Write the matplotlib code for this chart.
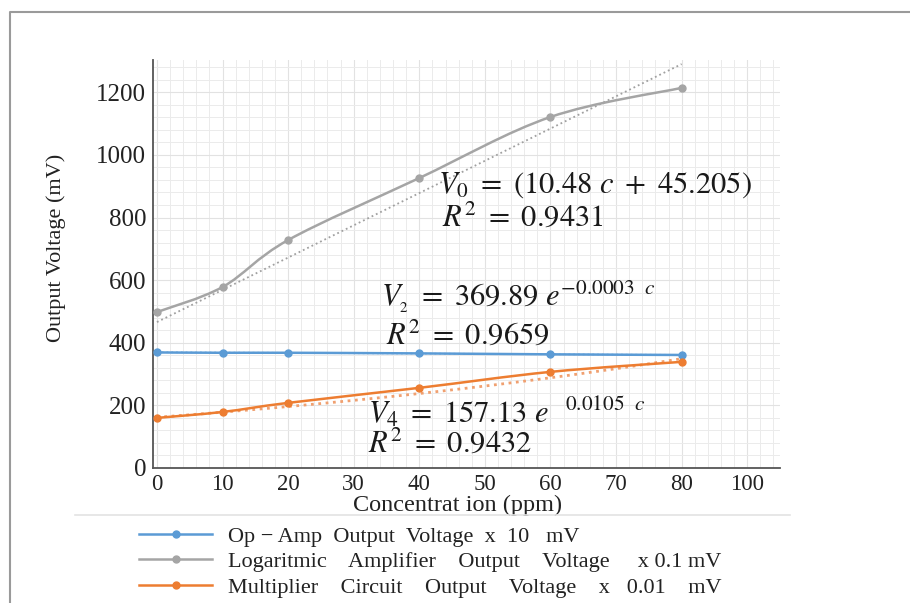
import numpy as np
import matplotlib
matplotlib.use("Agg")
import matplotlib.pyplot as plt
from matplotlib.path import Path
from matplotlib.patches import PathPatch
from matplotlib.lines import Line2D

plt.rcParams['font.family'] = ['Liberation Serif', 'DejaVu Serif']
plt.rcParams['mathtext.fontset'] = 'stix'

# ---------------- data ----------------
conc = [0, 10, 20, 40, 60, 80]
opamp = [369, 368, 368, 366, 363, 361]
logamp = [498, 578, 728, 926, 1121, 1214]
mult = [160, 179, 208, 256, 307, 339]

series_labels = ["Op \u2212 Amp  Output  Voltage  x  10   mV",
                 "Logaritmic    Amplifier    Output    Voltage     x 0.1 mV",
                 "Multiplier    Circuit    Output    Voltage    x   0.01    mV"]
series_colors = ["#5B9BD5", "#A5A5A5", "#ED7D31"]

# trendlines as drawn in the picture
log_trend_slope, log_trend_icpt = 10.3, 466
mult_trend_a, mult_trend_b = 162, 0.0096
op_trend_a, op_trend_b = 369.89, -0.0003

xtick_pos = [0, 10, 20, 30, 40, 50, 60, 70, 80, 90]
xtick_lab = ["0", "10", "20", "30", "40", "50", "60", "70", "80", "100"]
ytick_pos = [0, 200, 400, 600, 800, 1000, 1200]

eq_texts = [
    (r"$V_0\ =\ (10.48\ c\ +\ 45.205)$", 42.8, 904),
    (r"$R^2\ =\ 0.9431$", 43.4, 799),
    (r"$V_{_2}\ =\ 369.89\ e^{-0.0003\ \ c}$", 34.2, 546),
    (r"$R^2\ =\ 0.9659$", 35.0, 422),
    (r"$V_4\ =\ 157.13\ e^{\ \ \ 0.0105\ \ c}$", 32.2, 176),
    (r"$R^2\ =\ 0.9432$", 32.2, 77),
]

# ---------------- figure ----------------
W, H = 910, 603
fig = plt.figure(figsize=(W / 100, H / 100), dpi=100)
fig.patch.set_facecolor("white")

# outer frame (top and left edges)
fig.add_artist(Line2D([10 / W, 10 / W, 1.0], [0, (H - 12) / H, (H - 12) / H],
                      transform=fig.transFigure, color="#9a9a9a", lw=1.5))

ax = fig.add_axes([153 / W, (H - 468) / H, 627 / W, 408 / H])
ax.set_xlim(-0.6, 95)
ax.set_ylim(0, 1303)

for s in ["top", "right"]:
    ax.spines[s].set_visible(False)
for s in ["left", "bottom"]:
    ax.spines[s].set_color("#555555")
    ax.spines[s].set_linewidth(1.3)

ax.set_xticks(xtick_pos)
ax.set_xticklabels(xtick_lab)
ax.set_yticks(ytick_pos)
ax.set_xticks(np.arange(0, 95, 2), minor=True)
ax.set_yticks(np.arange(0, 1303, 40), minor=True)
ax.tick_params(which="both", length=0)
ax.tick_params(axis="x", pad=4, labelsize=16.5, colors="#222222")
ax.tick_params(axis="y", pad=5, labelsize=18, colors="#222222")
ax.grid(which="minor", color="#ebebeb", lw=0.7)
ax.grid(which="major", color="#e2e2e2", lw=0.8)
ax.set_axisbelow(True)


def smooth_path(xs, ys):
    xs = np.asarray(xs, float)
    ys = np.asarray(ys, float)
    pts = np.column_stack([xs, ys])
    n = len(pts)
    verts = [pts[0]]
    codes = [Path.MOVETO]
    for i in range(n - 1):
        p0 = pts[i - 1] if i > 0 else pts[i]
        p1 = pts[i]
        p2 = pts[i + 1]
        p3 = pts[i + 2] if i + 2 < n else pts[i + 1]
        c1 = p1 + (p2 - p0) / 6.0
        c2 = p2 - (p3 - p1) / 6.0
        verts += [c1, c2, p2]
        codes += [Path.CURVE4] * 3
    return Path(verts, codes)


xt = np.array([0, 80], float)
cx = np.linspace(0, 80, 50)
# trendlines (dotted)
ax.plot(xt, log_trend_icpt + log_trend_slope * xt, ls=":", color="#a0a0a0", lw=1.3, zorder=2)
ax.plot(cx, mult_trend_a * np.exp(mult_trend_b * cx), ls=":", color="#f0a070", lw=2.0, zorder=2)
ax.plot(cx, op_trend_a * np.exp(op_trend_b * cx), ls=":", color="#9cc3e8", lw=1.3, zorder=2)

for ys, col in zip([opamp, logamp, mult], series_colors):
    ax.add_patch(PathPatch(smooth_path(conc, ys), fill=False, edgecolor=col, lw=1.8, zorder=3))
    ax.plot(conc, ys, ls="none", marker="o", ms=5, color=col, zorder=4)

for txt, x, y in eq_texts:
    ax.text(x, y, txt, fontsize=22, va="center", ha="left", color="#1a1a1a", zorder=5)

ax.set_ylabel("Output Voltage (mV)", fontsize=16, color="#222222")
ax.yaxis.set_label_coords(-0.139, 0.54)
ax.set_xlabel("Concentrat ion (ppm)", fontsize=17.5, color="#222222", labelpad=0)
ax.xaxis.set_label_coords(0.485, -0.066)

# light separator line under the x label
fig.add_artist(Line2D([75 / W, 790 / W], [(H - 515) / H] * 2, transform=fig.transFigure,
                      color="#e3e3e3", lw=1.2))

handles = [Line2D([], [], color=c, marker="o", ms=5, lw=1.8) for c in series_colors]
fig.legend(handles, series_labels, loc="upper left", bbox_to_anchor=(128 / W, (H - 515) / H),
           frameon=False, fontsize=16, handlelength=3.3, handletextpad=0.7,
           labelspacing=0.22, borderpad=0, labelcolor="#222222")

fig.savefig("out.png", dpi=100)
